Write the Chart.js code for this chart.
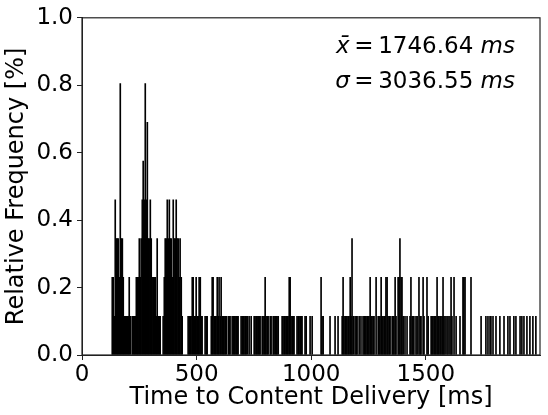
<!DOCTYPE html>
<html>
<head>
<meta charset="utf-8">
<script src="https://cdn.jsdelivr.net/npm/chart.js@4.4.0/dist/chart.umd.min.js"></script>
<style>
  html, body { margin: 0; padding: 0; background: #fff; }
  #wrap { width: 548px; height: 415px; position: relative; }
</style>
</head>
<body>
<div id="wrap"><canvas id="c" width="548" height="415"></canvas></div>
<script>
// Time bins (ms)
const times = [
  132,136,141,145,150,154,158,163,167,171,
  176,180,184,189,193,198,202,206,211,219,
  224,228,232,237,241,245,250,254,258,263,
  267,272,276,280,285,289,293,298,302,306,
  311,315,320,324,328,333,337,341,354,359,
  363,368,372,376,381,385,389,394,398,402,
  407,411,415,420,424,428,433,437,463,468,
  472,476,481,485,490,494,498,503,507,511,
  516,520,524,537,542,546,564,568,572,577,
  581,585,590,594,598,603,607,612,616,620,
  625,629,638,642,646,655,660,664,668,673,
  677,681,694,699,703,707,712,716,721,729,
  738,751,755,760,764,769,773,777,786,790,
  795,799,803,808,812,821,825,834,838,843,
  847,851,856,873,877,882,886,891,895,899,
  904,908,912,917,921,925,938,943,947,952,
  956,960,973,978,995,1004,1043,1047,1052,1082,
  1104,1117,1135,1139,1143,1148,1152,1156,1161,1165,
  1170,1174,1178,1183,1191,1196,1200,1209,1217,1226,
  1231,1235,1239,1244,1248,1252,1257,1261,1265,1270,
  1274,1283,1292,1296,1300,1305,1309,1313,1318,1322,
  1326,1331,1335,1340,1344,1353,1357,1361,1366,1370,
  1379,1383,1387,1392,1396,1401,1409,1418,1431,1435,
  1440,1444,1448,1457,1462,1470,1475,1479,1488,1492,
  1505,1510,1523,1527,1531,1536,1540,1544,1549,1553,
  1557,1562,1566,1571,1575,1579,1584,1592,1597,1605,
  1610,1614,1623,1632,1649,1662,1666,1671,1697,1741,
  1762,1771,1780,1784,1793,1806,1823,1841,1858,1867,
  1884,1893,1911,1919,1928,1941,1954,1967,1980
];
// Relative frequency [%] for each bin
const relFreq = [
  0.23,0.23,0.115,0.46,0.345,0.345,0.345,0.23,0.805,0.345,
  0.345,0.23,0.115,0.115,0.115,0.115,0.115,0.23,0.115,0.115,
  0.115,0.115,0.115,0.23,0.23,0.23,0.345,0.23,0.345,0.46,
  0.575,0.46,0.805,0.46,0.69,0.345,0.345,0.46,0.345,0.23,
  0.23,0.23,0.23,0.115,0.345,0.115,0.115,0.115,0.115,0.23,
  0.345,0.345,0.46,0.345,0.46,0.345,0.345,0.23,0.46,0.345,
  0.345,0.46,0.345,0.345,0.23,0.345,0.23,0.115,0.115,0.115,
  0.115,0.115,0.23,0.23,0.115,0.115,0.23,0.115,0.115,0.23,
  0.23,0.115,0.115,0.115,0.115,0.115,0.115,0.23,0.23,0.115,
  0.115,0.115,0.23,0.115,0.23,0.115,0.23,0.115,0.115,0.115,
  0.115,0.115,0.115,0.115,0.115,0.115,0.115,0.115,0.115,0.115,
  0.115,0.115,0.115,0.115,0.115,0.115,0.115,0.115,0.115,0.115,
  0.115,0.115,0.115,0.115,0.115,0.115,0.115,0.115,0.115,0.115,
  0.115,0.23,0.115,0.115,0.115,0.115,0.115,0.115,0.115,0.115,
  0.115,0.115,0.115,0.115,0.115,0.115,0.115,0.115,0.115,0.115,
  0.23,0.23,0.115,0.115,0.115,0.115,0.115,0.115,0.115,0.115,
  0.115,0.115,0.115,0.115,0.115,0.115,0.23,0.115,0.115,0.115,
  0.115,0.115,0.115,0.23,0.115,0.115,0.115,0.115,0.115,0.115,
  0.23,0.115,0.345,0.115,0.115,0.115,0.115,0.115,0.115,0.115,
  0.115,0.115,0.115,0.115,0.115,0.115,0.23,0.115,0.115,0.115,
  0.115,0.23,0.115,0.115,0.115,0.23,0.115,0.115,0.115,0.115,
  0.23,0.23,0.115,0.115,0.115,0.115,0.115,0.115,0.23,0.115,
  0.23,0.23,0.345,0.23,0.23,0.115,0.115,0.115,0.115,0.23,
  0.115,0.115,0.115,0.115,0.115,0.23,0.115,0.115,0.23,0.115,
  0.23,0.115,0.115,0.115,0.115,0.115,0.115,0.115,0.23,0.115,
  0.115,0.115,0.115,0.115,0.23,0.115,0.115,0.115,0.115,0.115,
  0.23,0.115,0.23,0.115,0.115,0.23,0.23,0.23,0.23,0.115,
  0.115,0.115,0.115,0.115,0.115,0.115,0.115,0.115,0.115,0.115,
  0.115,0.115,0.115,0.115,0.115,0.115,0.115,0.115,0.115
];
const xTicks = [0, 500, 1000, 1500];
const yTicks = [0.0, 0.2, 0.4, 0.6, 0.8, 1.0];
const meanText = "1746.64";
const sigmaText = "3036.55";
const xTitle = "Time to Content Delivery [ms]";
const yTitle = "Relative Frequency [%]";

const FONT = "'DejaVu Sans', sans-serif";

const framePlugin = {
  id: 'frame',
  afterDraw(chart) {
    const ctx = chart.ctx;
    const a = chart.chartArea;
    ctx.save();
    ctx.strokeStyle = '#222';
    ctx.lineWidth = 1.2;
    ctx.strokeRect(a.left, a.top, a.right - a.left, a.bottom - a.top);
    // annotation text
    const size = 23;
    const italic = 'italic ' + size + 'px ' + FONT;
    const normal = size + 'px ' + FONT;
    const lines = [
      { y: 53, parts: [['x\u0304', italic], ['\u2009=\u2009' + meanText + ' ', normal], ['ms', italic]] },
      { y: 88, parts: [['\u03C3', italic], ['\u2009=\u2009' + sigmaText + ' ', normal], ['ms', italic]] }
    ];
    const rightEdge = 515;
    ctx.fillStyle = '#000';
    ctx.textBaseline = 'alphabetic';
    ctx.textAlign = 'left';
    lines.forEach(line => {
      let total = 0;
      line.parts.forEach(p => { ctx.font = p[1]; total += ctx.measureText(p[0]).width; });
      let x = rightEdge - total;
      line.parts.forEach(p => { ctx.font = p[1]; ctx.fillText(p[0], x, line.y); x += ctx.measureText(p[0]).width; });
    });
    ctx.restore();
  }
};

new Chart(document.getElementById('c'), {
  type: 'bar',
  data: {
    datasets: [{
      data: times.map((t, i) => ({ x: t, y: relFreq[i] })),
      backgroundColor: '#000',
      borderWidth: 0,
      barThickness: 1
    }]
  },
  options: {
    responsive: false,
    animation: false,
    devicePixelRatio: 1,
    layout: { padding: { top: 15, right: 8, left: 0, bottom: 0 } },
    plugins: { legend: { display: false }, tooltip: { enabled: false } },
    scales: {
      x: {
        type: 'linear',
        min: 0,
        max: 1998,
        offset: false,
        grid: { offset: false, drawOnChartArea: false, drawTicks: true, tickLength: 5, color: '#222' },
        border: { display: true, color: '#222' },
        afterBuildTicks(scale) { scale.ticks = xTicks.map(v => ({ value: v })); },
        afterFit(scale) { scale.height = 60; },
        ticks: {
          color: '#000',
          font: { family: FONT, size: 23 },
          padding: 1,
          maxRotation: 0,
          autoSkip: false,
          callback: v => String(v)
        },
        title: {
          display: true,
          text: xTitle,
          color: '#000',
          font: { family: FONT, size: 24 },
          padding: { top: 0, bottom: 3 }
        }
      },
      y: {
        min: 0,
        max: 1,
        grid: { drawOnChartArea: false, drawTicks: true, tickLength: 5, color: '#222' },
        border: { display: true, color: '#222' },
        afterBuildTicks(scale) { scale.ticks = yTicks.map(v => ({ value: v })); },
        afterFit(scale) { scale.width = 82; },
        ticks: {
          color: '#000',
          font: { family: FONT, size: 23 },
          padding: 4,
          callback: v => Number(v).toFixed(1)
        },
        title: {
          display: true,
          text: yTitle,
          color: '#000',
          font: { family: FONT, size: 24 },
          padding: { top: 2, bottom: 0 }
        }
      }
    }
  },
  plugins: [framePlugin]
});
</script>
</body>
</html>
